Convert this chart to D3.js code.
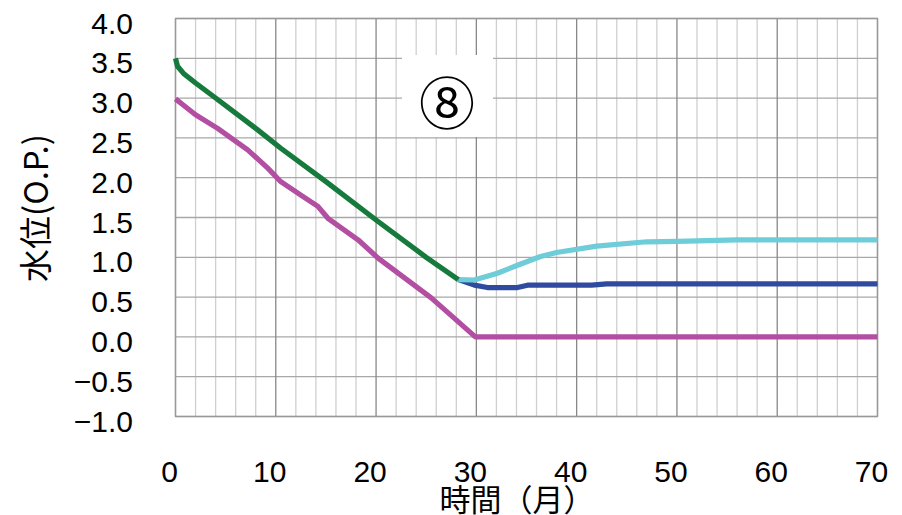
<!DOCTYPE html>
<html><head><meta charset="utf-8">
<script src="https://cdn.jsdelivr.net/npm/d3@7"></script>
<style>body{margin:0;background:#fff}svg{display:block}</style>
</head><body>
<svg id="c" width="902" height="515"></svg>
<script>
const xTicks = [0,10,20,30,40,50,60,70];
const yTicks = [4.0,3.5,3.0,2.5,2.0,1.5,1.0,0.5,0.0,-0.5,-1.0];
const yTickLabels = ["4.0","3.5","3.0","2.5","2.0","1.5","1.0","0.5","0.0","\u22120.5","\u22121.0"];
const xMinorTicks = d3.range(0, 71, 2);

const greenMonths = [0,0.2,0.8,2,3.8,8.1,10.5,15,20.2,25,28.2];
const greenValues = [3.5,3.4,3.31,3.19,3.02,2.61,2.37,1.95,1.45,1.0,0.72];
const magentaMonths = [0,0.8,2,4.2,7.2,9.2,10.5,12.5,14.2,15.2,18.2,20.2,25.5,29.9,70];
const magentaValues = [2.99,2.91,2.79,2.62,2.35,2.12,1.95,1.78,1.64,1.49,1.22,0.99,0.49,0,0];
const cyanMonths = [28.2,29.8,32.1,34.1,36.4,38,42,47,50,56,70];
const cyanValues = [0.72,0.715,0.8,0.9,1.01,1.06,1.14,1.195,1.2,1.22,1.22];
const blueMonths = [28.2,29.8,31.1,34.1,35.1,41.5,43,70];
const blueValues = [0.72,0.65,0.62,0.62,0.65,0.65,0.665,0.665];

const svg = d3.select("#c");
const x = d3.scaleLinear().domain([0,70]).range([175.5,877.5]);
const y = d3.scaleLinear().domain([-1,4]).range([416.5,18.5]);

const g = svg.append("g");
g.selectAll("line.vmin").data(xMinorTicks.filter(d=>d%10!==0)).enter().append("line")
  .attr("x1",d=>x(d)).attr("x2",d=>x(d)).attr("y1",y(4)).attr("y2",y(-1))
  .attr("stroke","#cfcfcf").attr("stroke-width",1.3);
g.selectAll("line.h").data(yTicks).enter().append("line")
  .attr("x1",x(0)).attr("x2",x(70)).attr("y1",d=>y(d)).attr("y2",d=>y(d))
  .attr("stroke","#a8a8a8").attr("stroke-width",1.3);
g.selectAll("line.vmaj").data(xTicks).enter().append("line")
  .attr("x1",d=>x(d)).attr("x2",d=>x(d)).attr("y1",y(4)).attr("y2",y(-1))
  .attr("stroke","#888").attr("stroke-width",1.3);
g.append("rect").attr("x",x(0)).attr("y",y(4)).attr("width",x(70)-x(0)).attr("height",y(-1)-y(4))
  .attr("fill","none").attr("stroke","#999").attr("stroke-width",1.3);

svg.append("rect").attr("x",402).attr("y",55).attr("width",91).attr("height",82).attr("fill","#fff");
svg.append("text").attr("x",447).attr("y",99).attr("text-anchor","middle").attr("dominant-baseline","central")
  .attr("font-family","'Noto Sans CJK JP'").attr("font-size",56).attr("fill","#000").text("⑧");

const line = d3.line().x(d=>x(d[0])).y(d=>y(d[1])).curve(d3.curveLinear);
const series = [
  [blueMonths, blueValues, "#2e4b9f"],
  [cyanMonths, cyanValues, "#6ecdd8"],
  [magentaMonths, magentaValues, "#b24fa2"],
  [greenMonths, greenValues, "#157a3c"]
];
series.forEach(([m,v,c])=>{
  svg.append("path").datum(m.map((d,i)=>[d,v[i]])).attr("d",line)
    .attr("fill","none").attr("stroke",c).attr("stroke-width",5.2).attr("stroke-linejoin","round");
});

svg.selectAll("text.yt").data(yTicks).enter().append("text")
  .attr("x",133).attr("y",d=>y(d)+15).attr("text-anchor","end")
  .attr("font-family","'Liberation Sans',Arial,sans-serif").attr("font-size",30).attr("fill","#000")
  .text((d,i)=>yTickLabels[i]);
svg.selectAll("text.xt").data(xTicks).enter().append("text")
  .attr("x",d=>x(d)-6).attr("y",482).attr("text-anchor","middle")
  .attr("font-family","'Liberation Sans',Arial,sans-serif").attr("font-size",30).attr("fill","#000")
  .text(d=>d);
svg.append("text").attr("x",517).attr("y",511).attr("text-anchor","middle")
  .attr("font-family","'Noto Sans CJK JP'").attr("font-size",31).attr("fill","#000").text("時間（月）");
svg.append("text").attr("transform","translate(48,208) rotate(-90)").attr("text-anchor","middle")
  .attr("font-family","'Noto Sans CJK JP'").attr("font-size",33).attr("fill","#000").text("水位(O.P.)");
</script>
</body></html>
